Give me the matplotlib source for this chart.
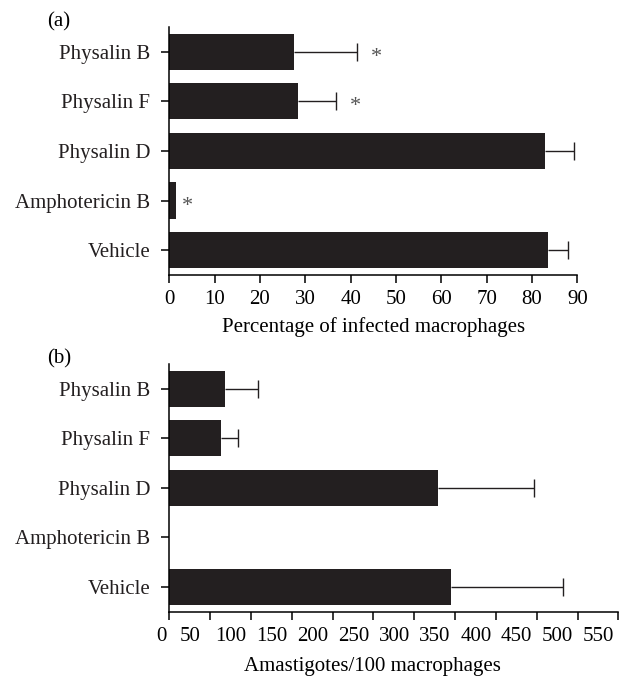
import matplotlib
matplotlib.use('Agg')
import matplotlib.pyplot as plt
import matplotlib.transforms as mtransforms

plt.rcParams['font.family'] = ['Liberation Serif', 'DejaVu Serif']
plt.rcParams['font.size'] = 15

groups = ['Physalin B', 'Physalin F', 'Physalin D', 'Amphotericin B', 'Vehicle']

# (a) percentage of infected macrophages
pct_mean = [27.5, 28.3, 82.9, 1.4, 83.5]
pct_err = [14.0, 8.5, 6.4, 0.0, 4.4]
pct_star = [True, True, False, True, False]

# (b) amastigotes / 100 macrophages
ama_mean = [68, 63, 329, 0, 345]
ama_err = [41, 21, 118, 0, 137]

bar_color = '#231f20'

fig = plt.figure(figsize=(6.24, 6.78), dpi=100)
ax1 = fig.add_axes([0.2713, 0.5944, 0.6538, 0.3658])
ax2 = fig.add_axes([0.2713, 0.0978, 0.7196, 0.3653])


def style(ax):
    for s in ['top', 'right']:
        ax.spines[s].set_visible(False)
    for s in ['left', 'bottom']:
        ax.spines[s].set_linewidth(1.1)
    ax.tick_params(axis='both', length=5.8, width=1.1, direction='out')
    ax.tick_params(axis='y', pad=8)
    ax.tick_params(axis='x', pad=5)
    ax.set_ylim(4.5, -0.5)
    ax.set_yticks(range(len(groups)))
    ax.set_yticklabels(groups, color='#231f20')


def draw(ax, mean, err):
    y = list(range(len(groups)))
    ax.barh(y, mean, height=0.73, color=bar_color)
    for yi, m, e in zip(y, mean, err):
        if e > 0:
            _, caps, _ = ax.errorbar(m, yi, xerr=[[0], [e]], fmt='none', ecolor=bar_color,
                                     elinewidth=1.0, capsize=6.5, capthick=1.0)
            caps[0].set_visible(False)  # only the upper cap


draw(ax1, pct_mean, pct_err)
style(ax1)
ax1.set_xlim(0, 90)
ax1.set_xticks(range(0, 91, 10))
ax1.set_xlabel('Percentage of infected macrophages', labelpad=6)
for yi, (m, e, s) in enumerate(zip(pct_mean, pct_err, pct_star)):
    if s:
        off = 19 if e > 0 else 12
        ax1.annotate('*', (m + e, yi), xytext=(off * 0.72, -4), textcoords='offset points',
                     ha='center', va='center', color='#555555', fontsize=16)
ax1.text(-0.27, 1.02, '(a)', transform=ax1.transAxes, ha='center', va='center')

draw(ax2, ama_mean, ama_err)
style(ax2)
ax2.set_xlim(0, 550)
ax2.set_xticks(range(0, 551, 50))
ax2.set_xlabel('Amastigotes/100 macrophages')
ax2.xaxis.set_label_coords(0.453, -0.183)
ax2.text(-0.245, 1.02, '(b)', transform=ax2.transAxes, ha='center', va='center')
# tick labels in the original sit a little left of their ticks
for i, lab in enumerate(ax2.get_xticklabels()):
    dx = -8 if i == 0 else -20
    lab.set_transform(lab.get_transform() + mtransforms.ScaledTranslation(dx / 100, 0, fig.dpi_scale_trans))

fig.savefig('out.png', dpi=100)
